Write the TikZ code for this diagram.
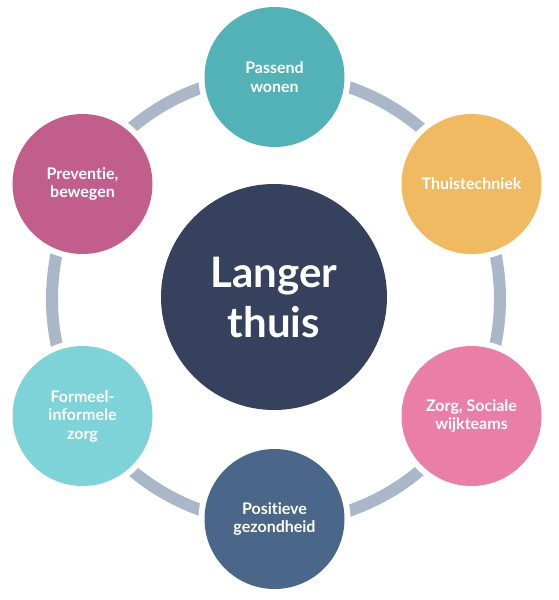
\documentclass[tikz,border=0pt]{standalone}
\usepackage{fontspec}
\setmainfont{Lato}[Ligatures={NoCommon}]
\definecolor{cteal}{HTML}{52B2B8}
\definecolor{cgold}{HTML}{F0BA62}
\definecolor{cpink}{HTML}{E97FA6}
\definecolor{cslate}{HTML}{4A6688}
\definecolor{caqua}{HTML}{7ED3D8}
\definecolor{cplum}{HTML}{C15E8C}
\definecolor{cnavy}{HTML}{36415E}
\definecolor{cring}{HTML}{A9B7C8}
\tikzset{
  bubble/.style={circle, minimum size=140pt, inner sep=0pt, align=center, text=white,
    font=\fontsize{16}{18.5}\selectfont\bfseries, preaction={draw=white, line width=12pt}},
  kteal/.style={bubble, fill=cteal}, kgold/.style={bubble, fill=cgold},
  kpink/.style={bubble, fill=cpink}, kslate/.style={bubble, fill=cslate},
  kaqua/.style={bubble, fill=caqua}, kplum/.style={bubble, fill=cplum},
  kcenter/.style={circle, minimum size=226pt, inner sep=0pt, align=center, text=white,
    fill=cnavy, font=\fontsize{42}{50}\selectfont\bfseries},
  ring/.style={draw=cring, line width=12pt},
}
\begin{document}
\begin{tikzpicture}[x=1pt, y=-1pt]
    \useasboundingbox (0,0) rectangle (559,600);
    \coordinate (mid) at (276,299);
    \draw[ring] (mid) circle (224pt);
    \node[kcenter] (home) at (274,297) {Langer\\thuis};
    \node[kteal] (wonen) at (274.5,77) {Passend\\wonen};
    \node[kgold] (techniek) at (471.5,184) {Thuistechniek};
    \node[kpink] (wijk) at (471.5,416) {Zorg, Sociale\\wijkteams};
    \node[kslate] (gezond) at (274.5,519) {Positieve\\gezondheid};
    \node[kaqua] (zorg) at (82.5,416) {Formeel-\\informele\\zorg};
    \node[kplum] (preventie) at (82.5,184) {Preventie,\\bewegen};
  \end{tikzpicture}
\end{document}
